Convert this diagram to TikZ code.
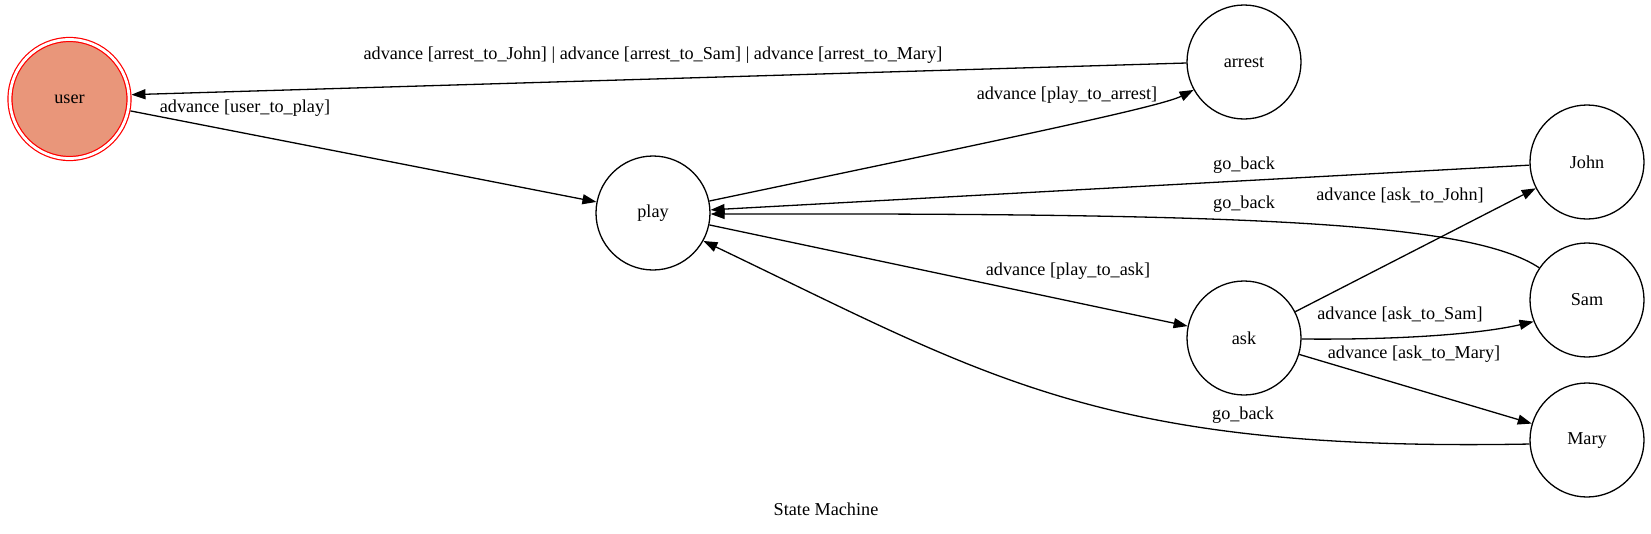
\documentclass[tikz,border=0pt]{standalone}
\usepackage{fontspec}
\setmainfont{Liberation Serif}
\usetikzlibrary{arrows.meta}
\definecolor{salmonfill}{HTML}{E9967A}
\begin{document}
\begin{tikzpicture}[x=1pt,y=-1pt,
  every node/.style={font=\fontsize{18.2}{21}\selectfont},
  state/.style={circle, draw, line width=1.3pt, minimum size=114pt, inner sep=0pt},
  initstate/.style={circle, draw=red, double=white, double distance=2.8pt, line width=1.2pt, fill=salmonfill, minimum size=119pt, inner sep=0pt, outer sep=2.6pt},
  lbl/.style={inner sep=0pt, text height=0.7em, text depth=0.25em},
  arr/.style={line width=1.3pt, -{Triangle[length=14pt,width=10pt]}}
]
\useasboundingbox (0,0) rectangle (1651,533);
\node[initstate] (user) at (69.5,99) {user};
\node[state] (play) at (653,213) {play};
\node[state] (arrest) at (1244,62) {arrest};
\node[state] (john) at (1587,162) {John};
\node[state] (sam) at (1587,300) {Sam};
\node[state] (ask) at (1244,338) {ask};
\node[state] (mary) at (1587,440) {Mary};

\draw[arr] (arrest.181) -- (user.4);
\draw[arr] (user) -- (play);
\draw[arr] (play.12) .. controls (1000,140) and (1160,107) .. (arrest.209);
\draw[arr] (john) -- (play);
\draw[arr] (sam.146) .. controls (1470,222) and (1250,213) .. (play.359);
\draw[arr] (play) -- (ask);
\draw[arr] (ask) -- (john);
\draw[arr] (ask.359) .. controls (1400,340) and (1480,334) .. (sam.202);
\draw[arr] (ask) -- (mary);
\draw[arr] (mary.184) .. controls (1100,452) and (990,378) .. (play.331);

\node[lbl] (l1) at (653,57) {advance [arrest\_to\_John] | advance [arrest\_to\_Sam] | advance [arrest\_to\_Mary]};
\node[lbl] (l2) at (245,110) {advance [user\_to\_play]};
\node[lbl] (l3) at (1067,97) {advance [play\_to\_arrest]};
\node[lbl] (l4) at (1244,167) {go\_back};
\node[lbl] (l5) at (1244,206) {go\_back};
\node[lbl] (l6) at (1068,273) {advance [play\_to\_ask]};
\node[lbl] (l7) at (1400,198) {advance [ask\_to\_John]};
\node[lbl] (l8) at (1400,317) {advance [ask\_to\_Sam]};
\node[lbl] (l9) at (1414,356) {advance [ask\_to\_Mary]};
\node[lbl] (l10) at (1243,417) {go\_back};
\node[lbl] (title) at (826,513) {State Machine};
\end{tikzpicture}
\end{document}
